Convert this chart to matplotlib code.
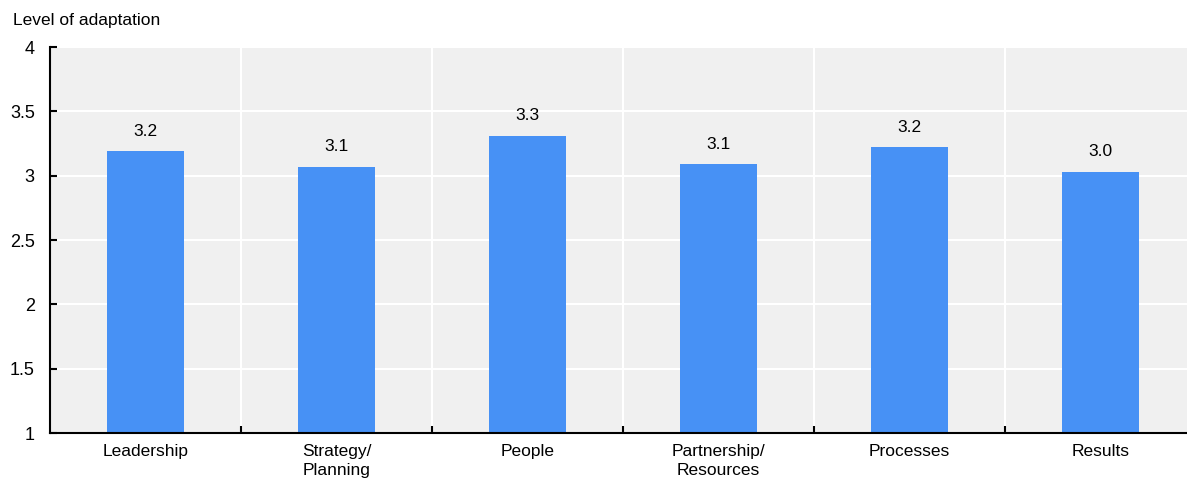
import matplotlib
matplotlib.use("Agg")
import matplotlib.pyplot as plt
import numpy as np

categories = ["Leadership", "Strategy/\nPlanning", "People",
              "Partnership/\nResources", "Processes", "Results"]
values = [3.19, 3.07, 3.31, 3.09, 3.22, 3.03]
yticks = [1, 1.5, 2, 2.5, 3, 3.5, 4]
ytick_labels = ["1", "1.5", "2", "2.5", "3", "3.5", "4"]

plt.rcParams['font.family'] = ['Liberation Sans', 'DejaVu Sans']

fig = plt.figure(figsize=(11.87, 4.82), dpi=100)
ax = fig.add_axes([50 / 1187, 49 / 482, 1146 / 1187, 386 / 482])
ax.set_facecolor('#f0f0f0')

x = np.arange(len(categories))
bars = ax.bar(x, values, width=0.4, color='#4791f5', zorder=3)
for b, v in zip(bars, values):
    ax.annotate('%.1f' % v, (b.get_x() + b.get_width() / 2, v),
                xytext=(0, 9), textcoords='offset points',
                ha='center', va='bottom', fontsize=12.5)

ax.set_xlim(-0.5, len(categories) - 0.5)
ax.set_ylim(1, 4)
ax.set_yticks(yticks)
ax.set_yticklabels(ytick_labels, fontsize=13)
ax.set_xticks(x)
ax.set_xticklabels(categories, fontsize=12.5, linespacing=1.35)
ax.set_xticks(x[:-1] + 0.5, minor=True)

ax.tick_params(axis='x', which='major', length=0, pad=8)
ax.tick_params(axis='x', which='minor', direction='in', length=5, width=1.5)
ax.tick_params(axis='y', direction='in', length=5, width=1.5, pad=11)

ax.grid(axis='y', which='major', color='white', linewidth=1.5, zorder=1)
ax.grid(axis='x', which='minor', color='white', linewidth=1.5, zorder=1)
ax.set_axisbelow(True)

for s in ['top', 'right']:
    ax.spines[s].set_visible(False)
for s in ['left', 'bottom']:
    ax.spines[s].set_linewidth(1.5)
    ax.spines[s].set_zorder(4)

fig.text(13 / 1187, 1 - 21 / 482, "Level of adaptation", fontsize=12.5,
         ha='left', va='center')

fig.savefig('out.png', dpi=100)
